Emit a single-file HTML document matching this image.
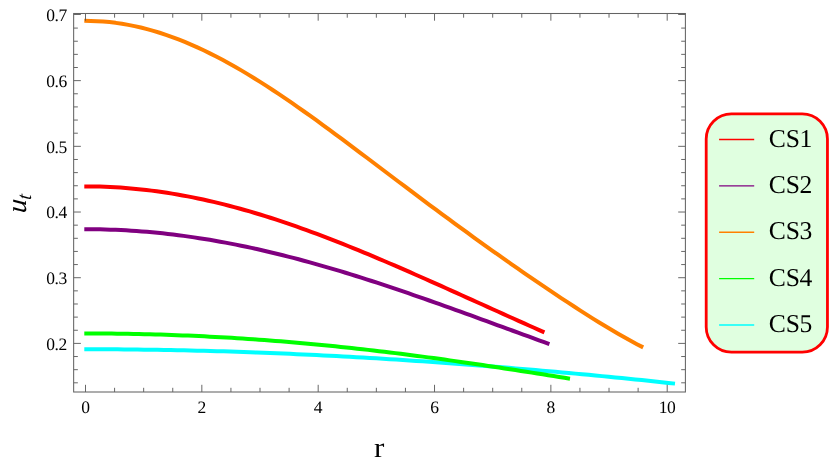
<!DOCTYPE html>
<html><head><meta charset="utf-8"><title>plot</title><style>html,body{margin:0;padding:0;background:#fff}body{width:830px;height:466px;overflow:hidden;font-family:"Liberation Serif",serif}</style></head><body>
<svg width="830" height="466" viewBox="0 0 830 466" style="display:block;will-change:transform" text-rendering="geometricPrecision">
<rect width="830" height="466" fill="#fff"/>
<path d="M84.30,186.42 L89.47,186.43 L94.64,186.50 L99.81,186.62 L104.98,186.79 L110.15,187.01 L115.32,187.28 L120.49,187.61 L125.66,187.98 L130.83,188.41 L136.00,188.89 L141.17,189.41 L146.34,189.99 L151.51,190.62 L156.68,191.30 L161.84,192.02 L167.01,192.80 L172.18,193.63 L177.35,194.50 L182.52,195.42 L187.69,196.38 L192.86,197.40 L198.03,198.46 L203.20,199.56 L208.37,200.71 L213.54,201.91 L218.71,203.14 L223.88,204.42 L229.05,205.75 L234.22,207.11 L239.39,208.51 L244.56,209.96 L249.73,211.44 L254.90,212.97 L260.07,214.53 L265.24,216.12 L270.41,217.76 L275.58,219.43 L280.75,221.13 L285.92,222.87 L291.09,224.64 L296.26,226.44 L301.43,228.27 L306.60,230.13 L311.77,232.02 L316.93,233.94 L322.10,235.89 L327.27,237.86 L332.44,239.86 L337.61,241.88 L342.78,243.92 L347.95,245.99 L353.12,248.08 L358.29,250.19 L363.46,252.32 L368.63,254.47 L373.80,256.63 L378.97,258.81 L384.14,261.01 L389.31,263.22 L394.48,265.45 L399.65,267.69 L404.82,269.94 L409.99,272.20 L415.16,274.47 L420.33,276.75 L425.50,279.04 L430.67,281.34 L435.84,283.64 L441.01,285.95 L446.18,288.27 L451.35,290.58 L456.52,292.91 L461.69,295.23 L466.86,297.56 L472.02,299.89 L477.19,302.22 L482.36,304.55 L487.53,306.88 L492.70,309.22 L497.87,311.54 L503.04,313.87 L508.21,316.20 L513.38,318.52 L518.55,320.84 L523.72,323.16 L528.89,325.48 L534.06,327.79 L539.23,330.10 L544.40,332.40" fill="none" stroke="#ff0000" stroke-width="4" stroke-linejoin="round"/>
<path d="M84.30,229.21 L89.53,229.22 L94.75,229.27 L99.98,229.36 L105.20,229.48 L110.43,229.65 L115.66,229.85 L120.88,230.09 L126.11,230.37 L131.33,230.68 L136.56,231.04 L141.78,231.43 L147.01,231.86 L152.24,232.32 L157.46,232.82 L162.69,233.36 L167.91,233.94 L173.14,234.55 L178.37,235.20 L183.59,235.89 L188.82,236.61 L194.04,237.37 L199.27,238.16 L204.49,238.98 L209.72,239.84 L214.95,240.73 L220.17,241.66 L225.40,242.62 L230.62,243.62 L235.85,244.64 L241.08,245.70 L246.30,246.79 L251.53,247.91 L256.75,249.06 L261.98,250.24 L267.20,251.45 L272.43,252.69 L277.66,253.95 L282.88,255.25 L288.11,256.57 L293.33,257.92 L298.56,259.30 L303.79,260.70 L309.01,262.13 L314.24,263.58 L319.46,265.06 L324.69,266.56 L329.91,268.08 L335.14,269.62 L340.37,271.19 L345.59,272.78 L350.82,274.38 L356.04,276.01 L361.27,277.66 L366.50,279.32 L371.72,281.01 L376.95,282.71 L382.17,284.42 L387.40,286.16 L392.62,287.90 L397.85,289.67 L403.08,291.44 L408.30,293.23 L413.53,295.03 L418.75,296.85 L423.98,298.67 L429.21,300.51 L434.43,302.35 L439.66,304.20 L444.88,306.07 L450.11,307.94 L455.33,309.81 L460.56,311.70 L465.79,313.59 L471.01,315.48 L476.24,317.38 L481.46,319.28 L486.69,321.19 L491.92,323.10 L497.14,325.01 L502.37,326.92 L507.59,328.84 L512.82,330.75 L518.04,332.67 L523.27,334.58 L528.50,336.49 L533.72,338.40 L538.95,340.31 L544.17,342.21 L549.40,344.11" fill="none" stroke="#800080" stroke-width="4" stroke-linejoin="round"/>
<path d="M84.30,20.86 L90.58,20.91 L96.86,21.14 L103.14,21.54 L109.42,22.11 L115.70,22.86 L121.98,23.78 L128.26,24.87 L134.54,26.12 L140.82,27.54 L147.10,29.13 L153.38,30.87 L159.66,32.78 L165.94,34.84 L172.22,37.05 L178.50,39.42 L184.78,41.92 L191.06,44.57 L197.34,47.36 L203.62,50.29 L209.90,53.34 L216.18,56.52 L222.46,59.82 L228.73,63.23 L235.01,66.76 L241.29,70.39 L247.57,74.13 L253.85,77.96 L260.13,81.88 L266.41,85.89 L272.69,89.99 L278.97,94.15 L285.25,98.39 L291.53,102.70 L297.81,107.07 L304.09,111.49 L310.37,115.97 L316.65,120.49 L322.93,125.05 L329.21,129.65 L335.49,134.28 L341.77,138.94 L348.05,143.62 L354.33,148.33 L360.61,153.04 L366.89,157.77 L373.17,162.51 L379.45,167.26 L385.73,172.00 L392.01,176.74 L398.29,181.48 L404.57,186.22 L410.85,190.94 L417.13,195.65 L423.41,200.35 L429.69,205.03 L435.97,209.70 L442.25,214.35 L448.53,218.98 L454.81,223.59 L461.09,228.17 L467.37,232.74 L473.65,237.28 L479.93,241.80 L486.21,246.30 L492.49,250.77 L498.77,255.22 L505.04,259.65 L511.32,264.05 L517.60,268.43 L523.88,272.78 L530.16,277.10 L536.44,281.40 L542.72,285.67 L549.00,289.91 L555.28,294.12 L561.56,298.30 L567.84,302.44 L574.12,306.54 L580.40,310.60 L586.68,314.62 L592.96,318.58 L599.24,322.48 L605.52,326.31 L611.80,330.07 L618.08,333.75 L624.36,337.33 L630.64,340.81 L636.92,344.16 L643.20,347.38" fill="none" stroke="#ff8000" stroke-width="4" stroke-linejoin="round"/>
<path d="M84.30,349.24 L90.94,349.25 L97.57,349.26 L104.21,349.28 L110.85,349.32 L117.49,349.36 L124.12,349.41 L130.76,349.47 L137.40,349.54 L144.03,349.63 L150.67,349.72 L157.31,349.82 L163.94,349.93 L170.58,350.05 L177.22,350.18 L183.86,350.32 L190.49,350.47 L197.13,350.63 L203.77,350.80 L210.40,350.98 L217.04,351.16 L223.68,351.36 L230.32,351.57 L236.95,351.78 L243.59,352.01 L250.23,352.24 L256.86,352.48 L263.50,352.74 L270.14,353.00 L276.78,353.27 L283.41,353.55 L290.05,353.83 L296.69,354.13 L303.32,354.43 L309.96,354.75 L316.60,355.07 L323.23,355.40 L329.87,355.74 L336.51,356.09 L343.15,356.44 L349.78,356.81 L356.42,357.18 L363.06,357.56 L369.69,357.95 L376.33,358.34 L382.97,358.75 L389.61,359.16 L396.24,359.58 L402.88,360.00 L409.52,360.44 L416.15,360.88 L422.79,361.33 L429.43,361.79 L436.07,362.25 L442.70,362.72 L449.34,363.20 L455.98,363.69 L462.61,364.18 L469.25,364.68 L475.89,365.19 L482.52,365.70 L489.16,366.22 L495.80,366.75 L502.44,367.29 L509.07,367.83 L515.71,368.38 L522.35,368.93 L528.98,369.49 L535.62,370.06 L542.26,370.64 L548.90,371.22 L555.53,371.81 L562.17,372.41 L568.81,373.01 L575.44,373.62 L582.08,374.24 L588.72,374.86 L595.36,375.49 L601.99,376.13 L608.63,376.77 L615.27,377.42 L621.90,378.08 L628.54,378.75 L635.18,379.42 L641.81,380.10 L648.45,380.79 L655.09,381.49 L661.73,382.19 L668.36,382.90 L675.00,383.62" fill="none" stroke="#00ffff" stroke-width="4" stroke-linejoin="round"/>
<path d="M84.30,333.44 L89.76,333.44 L95.21,333.46 L100.67,333.49 L106.13,333.53 L111.59,333.58 L117.04,333.65 L122.50,333.72 L127.96,333.82 L133.42,333.92 L138.87,334.03 L144.33,334.16 L149.79,334.30 L155.24,334.45 L160.70,334.62 L166.16,334.79 L171.62,334.98 L177.07,335.18 L182.53,335.40 L187.99,335.62 L193.45,335.86 L198.90,336.11 L204.36,336.37 L209.82,336.65 L215.28,336.94 L220.73,337.24 L226.19,337.55 L231.65,337.87 L237.10,338.21 L242.56,338.56 L248.02,338.92 L253.48,339.29 L258.93,339.68 L264.39,340.08 L269.85,340.49 L275.31,340.91 L280.76,341.34 L286.22,341.79 L291.68,342.25 L297.13,342.72 L302.59,343.20 L308.05,343.69 L313.51,344.20 L318.96,344.71 L324.42,345.24 L329.88,345.78 L335.34,346.33 L340.79,346.89 L346.25,347.47 L351.71,348.05 L357.17,348.65 L362.62,349.26 L368.08,349.87 L373.54,350.50 L378.99,351.14 L384.45,351.79 L389.91,352.45 L395.37,353.12 L400.82,353.81 L406.28,354.50 L411.74,355.20 L417.20,355.91 L422.65,356.63 L428.11,357.36 L433.57,358.09 L439.02,358.84 L444.48,359.60 L449.94,360.36 L455.40,361.13 L460.85,361.91 L466.31,362.70 L471.77,363.49 L477.23,364.30 L482.68,365.10 L488.14,365.92 L493.60,366.74 L499.06,367.57 L504.51,368.40 L509.97,369.24 L515.43,370.08 L520.88,370.92 L526.34,371.77 L531.80,372.63 L537.26,373.48 L542.71,374.34 L548.17,375.20 L553.63,376.06 L559.09,376.93 L564.54,377.79 L570.00,378.65" fill="none" stroke="#00ff00" stroke-width="4" stroke-linejoin="round"/>
<path d="M85.50,392.0v-7.2M85.50,13.5v7.2M114.59,392.0v-4.2M114.59,13.5v4.2M143.67,392.0v-4.2M143.67,13.5v4.2M172.75,392.0v-4.2M172.75,13.5v4.2M201.84,392.0v-7.2M201.84,13.5v7.2M230.93,392.0v-4.2M230.93,13.5v4.2M260.01,392.0v-4.2M260.01,13.5v4.2M289.10,392.0v-4.2M289.10,13.5v4.2M318.18,392.0v-7.2M318.18,13.5v7.2M347.26,392.0v-4.2M347.26,13.5v4.2M376.35,392.0v-4.2M376.35,13.5v4.2M405.44,392.0v-4.2M405.44,13.5v4.2M434.52,392.0v-7.2M434.52,13.5v7.2M463.61,392.0v-4.2M463.61,13.5v4.2M492.69,392.0v-4.2M492.69,13.5v4.2M521.78,392.0v-4.2M521.78,13.5v4.2M550.86,392.0v-7.2M550.86,13.5v7.2M579.94,392.0v-4.2M579.94,13.5v4.2M609.03,392.0v-4.2M609.03,13.5v4.2M638.12,392.0v-4.2M638.12,13.5v4.2M667.20,392.0v-7.2M667.20,13.5v7.2M73.65,382.81h4.2M685.4,382.81h-4.2M73.65,369.68h4.2M685.4,369.68h-4.2M73.65,356.54h4.2M685.4,356.54h-4.2M73.65,343.40h7.2M685.4,343.40h-7.2M73.65,330.26h4.2M685.4,330.26h-4.2M73.65,317.12h4.2M685.4,317.12h-4.2M73.65,303.99h4.2M685.4,303.99h-4.2M73.65,290.85h4.2M685.4,290.85h-4.2M73.65,277.71h7.2M685.4,277.71h-7.2M73.65,264.57h4.2M685.4,264.57h-4.2M73.65,251.43h4.2M685.4,251.43h-4.2M73.65,238.30h4.2M685.4,238.30h-4.2M73.65,225.16h4.2M685.4,225.16h-4.2M73.65,212.02h7.2M685.4,212.02h-7.2M73.65,198.88h4.2M685.4,198.88h-4.2M73.65,185.74h4.2M685.4,185.74h-4.2M73.65,172.61h4.2M685.4,172.61h-4.2M73.65,159.47h4.2M685.4,159.47h-4.2M73.65,146.33h7.2M685.4,146.33h-7.2M73.65,133.19h4.2M685.4,133.19h-4.2M73.65,120.05h4.2M685.4,120.05h-4.2M73.65,106.92h4.2M685.4,106.92h-4.2M73.65,93.78h4.2M685.4,93.78h-4.2M73.65,80.64h7.2M685.4,80.64h-7.2M73.65,67.50h4.2M685.4,67.50h-4.2M73.65,54.36h4.2M685.4,54.36h-4.2M73.65,41.23h4.2M685.4,41.23h-4.2M73.65,28.09h4.2M685.4,28.09h-4.2M73.65,14.50h7.2M685.4,14.50h-7.2" stroke="#4d4d4d" stroke-width="0.85" fill="none"/>
<rect x="73.65" y="13.5" width="611.75" height="378.5" fill="none" stroke="#636363" stroke-width="1.05"/>
<g font-family="'Liberation Serif', serif" font-size="17.5" letter-spacing="-0.55" fill="#000">
<text x="85.25" y="413.2" text-anchor="middle">0</text>
<text x="201.59" y="413.2" text-anchor="middle">2</text>
<text x="317.93" y="413.2" text-anchor="middle">4</text>
<text x="434.27" y="413.2" text-anchor="middle">6</text>
<text x="550.61" y="413.2" text-anchor="middle">8</text>
<text x="666.95" y="413.2" text-anchor="middle">10</text>
<text x="66.6" y="349.70" text-anchor="end">0.2</text>
<text x="66.6" y="284.01" text-anchor="end">0.3</text>
<text x="66.6" y="218.32" text-anchor="end">0.4</text>
<text x="66.6" y="152.63" text-anchor="end">0.5</text>
<text x="66.6" y="86.94" text-anchor="end">0.6</text>
<text x="66.6" y="21.25" text-anchor="end">0.7</text>
</g>
<text transform="translate(374,456.9) scale(1,0.92)" font-family="'Liberation Serif', serif" font-size="31" fill="#000">r</text>
<g transform="translate(26.1,213.4) rotate(-90)" font-family="'Liberation Serif', serif" font-style="italic" fill="#000"><text transform="skewX(-4.5)" font-size="28">u</text><text transform="translate(13.4,5) scale(0.9,1) skewX(-7)" font-size="20.4">t</text></g>
<rect x="706.2" y="113.9" width="121.25" height="238.25" rx="25.2" ry="25.2" fill="#e0ffe0" stroke="#ff0000" stroke-width="2.8"/>
<path d="M719.1,139.50H754.2" stroke="#ff0000" stroke-width="1.3"/>
<text x="768.7" y="146.70" font-family="'Liberation Serif', serif" font-size="25.6" fill="#000">CS<tspan dx="-0.5">1</tspan></text>
<path d="M719.1,185.88H754.2" stroke="#800080" stroke-width="1.3"/>
<text x="768.7" y="193.08" font-family="'Liberation Serif', serif" font-size="25.6" fill="#000">CS<tspan dx="-0.5">2</tspan></text>
<path d="M719.1,232.26H754.2" stroke="#ff8000" stroke-width="1.3"/>
<text x="768.7" y="239.46" font-family="'Liberation Serif', serif" font-size="25.6" fill="#000">CS<tspan dx="-0.5">3</tspan></text>
<path d="M719.1,278.64H754.2" stroke="#00ff00" stroke-width="1.3"/>
<text x="768.7" y="285.84" font-family="'Liberation Serif', serif" font-size="25.6" fill="#000">CS<tspan dx="-0.5">4</tspan></text>
<path d="M719.1,325.02H754.2" stroke="#00ffff" stroke-width="1.3"/>
<text x="768.7" y="332.22" font-family="'Liberation Serif', serif" font-size="25.6" fill="#000">CS<tspan dx="-0.5">5</tspan></text>
</svg>
</body></html>
